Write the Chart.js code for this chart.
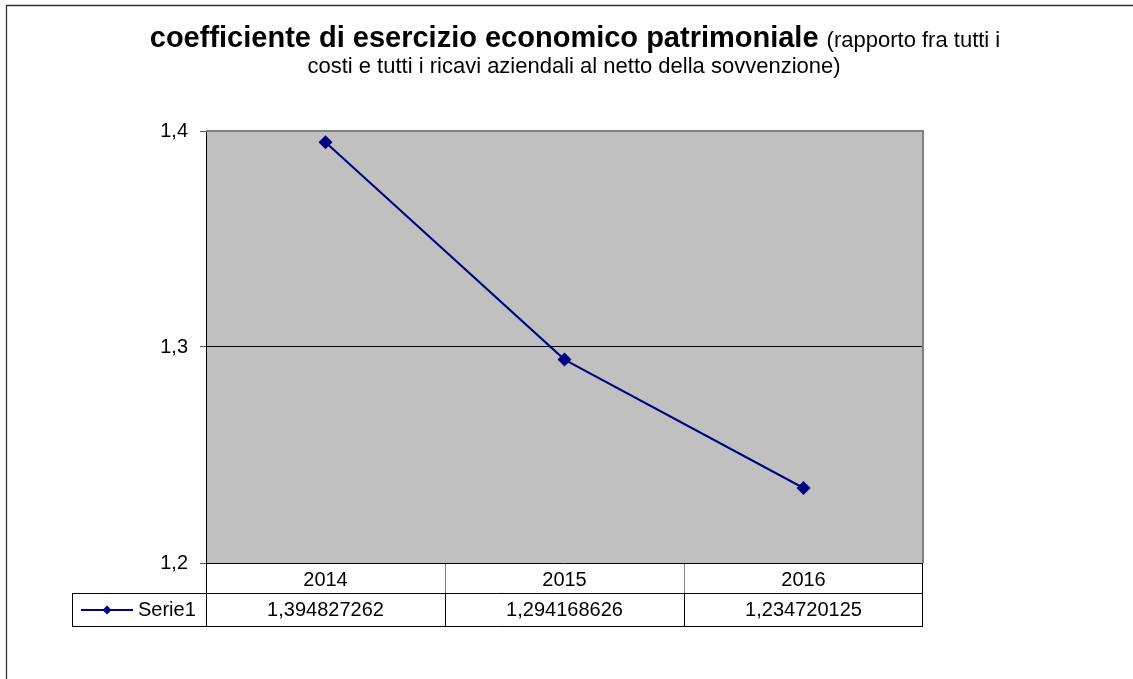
<!DOCTYPE html>
<html lang="it">
<head>
    <meta charset="UTF-8">
    <title>coefficiente di esercizio economico patrimoniale</title>
    <script src="https://cdn.jsdelivr.net/npm/chart.js"></script>
    <style>
        html, body { margin: 0; padding: 0; background: #ffffff; }
        canvas { display: block; }
    </style>
</head>
<body>
    <canvas id="chart" width="1133" height="679"></canvas>

    <script>
        // chart data
        const years = ['2014', '2015', '2016'];
        const serie1 = [1.394827262, 1.294168626, 1.234720125];
        const serieName = 'Serie1';
        const yTicks = [1.2, 1.3, 1.4];
        const titleBold = 'coefficiente di esercizio economico patrimoniale';
        const titleRest = '(rapporto fra tutti i';
        const titleLine2 = 'costi e tutti i ricavi aziendali al netto della sovvenzione)';

        const FONT = '"Liberation Sans", Arial, Helvetica, sans-serif';
        const NAVY = '#000080';
        const comma = v => String(v).replace('.', ',');

        // white page, outer frame, gray plot area
        const backdrop = {
            id: 'backdrop',
            beforeDraw(chart) {
                const { ctx, chartArea: a } = chart;
                ctx.save();
                ctx.fillStyle = '#ffffff';
                ctx.fillRect(0, 0, chart.width, chart.height);
                ctx.strokeStyle = '#333333';
                ctx.lineWidth = 1.3;
                ctx.beginPath();
                ctx.moveTo(6.5, chart.height);
                ctx.lineTo(6.5, 5.5);
                ctx.lineTo(chart.width, 5.5);
                ctx.stroke();
                ctx.fillStyle = '#c0c0c0';
                ctx.fillRect(a.left, a.top, a.right - a.left, a.bottom - a.top);
                ctx.restore();
            },
            beforeDatasetsDraw(chart) {
                const { ctx, chartArea: a } = chart;
                ctx.save();
                ctx.strokeStyle = '#808080';
                ctx.lineWidth = 2;
                ctx.beginPath();
                ctx.moveTo(a.left, a.top);
                ctx.lineTo(a.right, a.top);
                ctx.lineTo(a.right, a.bottom);
                ctx.stroke();
                ctx.restore();
            }
        };

        // title with bold and normal parts
        const titlePlugin = {
            id: 'mixedTitle',
            afterDraw(chart) {
                const ctx = chart.ctx;
                const cx = 575;
                ctx.save();
                ctx.fillStyle = '#000';
                ctx.textBaseline = 'alphabetic';
                ctx.textAlign = 'left';
                ctx.font = 'bold 29px ' + FONT;
                const wb = ctx.measureText(titleBold + ' ').width;
                ctx.font = '22px ' + FONT;
                const wr = ctx.measureText(titleRest).width;
                let x = cx - (wb + wr) / 2;
                ctx.font = 'bold 29px ' + FONT;
                ctx.fillText(titleBold, x, 47);
                ctx.font = '22px ' + FONT;
                ctx.fillText(titleRest, x + wb, 47);
                ctx.textAlign = 'center';
                ctx.fillText(titleLine2, cx - 1, 73);
                ctx.restore();
            }
        };

        // data table under the plot
        const dataTable = {
            id: 'dataTable',
            afterDraw(chart) {
                const { ctx, chartArea: a } = chart;
                const xs = chart.scales.x;
                const ds = chart.data.datasets[0];
                const n = chart.data.labels.length;
                const cw = (a.right - a.left) / n;
                const r0 = a.bottom, r1 = a.bottom + 30, r2 = a.bottom + 63;
                const legL = 72;
                ctx.save();
                // row 1 inner verticals (gray)
                ctx.strokeStyle = '#808080';
                ctx.lineWidth = 1;
                ctx.beginPath();
                for (let i = 1; i < n; i++) {
                    const x = Math.round(a.left + cw * i) + 0.5;
                    ctx.moveTo(x, r0); ctx.lineTo(x, r1);
                }
                ctx.stroke();
                // black lines
                ctx.strokeStyle = '#000';
                ctx.beginPath();
                ctx.moveTo(a.left, r0 + 0.5); ctx.lineTo(a.right, r0 + 0.5);
                ctx.moveTo(legL, r1 + 0.5); ctx.lineTo(a.right, r1 + 0.5);
                ctx.moveTo(legL, r2 + 0.5); ctx.lineTo(a.right, r2 + 0.5);
                ctx.moveTo(legL + 0.5, r1); ctx.lineTo(legL + 0.5, r2);
                ctx.moveTo(a.left + 0.5, r0); ctx.lineTo(a.left + 0.5, r2);
                ctx.moveTo(Math.round(a.right) - 0.5, r0); ctx.lineTo(Math.round(a.right) - 0.5, r2);
                for (let i = 1; i < n; i++) {
                    const x = Math.round(a.left + cw * i) + 0.5;
                    ctx.moveTo(x, r1); ctx.lineTo(x, r2);
                }
                ctx.stroke();
                // texts
                ctx.fillStyle = '#000';
                ctx.font = '20px ' + FONT;
                ctx.textAlign = 'center';
                ctx.textBaseline = 'alphabetic';
                chart.data.labels.forEach((lab, i) => {
                    const x = xs.getPixelForValue(i);
                    ctx.fillText(lab, x, r0 + 23);
                    ctx.fillText(comma(ds.data[i]), x, r1 + 23);
                });
                // legend key
                const ly = (r1 + r2) / 2 + 0.5;
                ctx.strokeStyle = ds.borderColor;
                ctx.lineWidth = 2;
                ctx.beginPath();
                ctx.moveTo(81, ly); ctx.lineTo(133, ly);
                ctx.stroke();
                ctx.fillStyle = ds.pointBackgroundColor;
                ctx.beginPath();
                ctx.moveTo(107, ly - 4.5); ctx.lineTo(111.5, ly);
                ctx.lineTo(107, ly + 4.5); ctx.lineTo(102.5, ly);
                ctx.closePath();
                ctx.fill();
                ctx.fillStyle = '#000';
                ctx.textAlign = 'left';
                ctx.fillText(ds.label, 138, r1 + 23);
                ctx.restore();
            }
        };

        new Chart(document.getElementById('chart'), {
            type: 'line',
            data: {
                labels: years,
                datasets: [{
                    label: serieName,
                    data: serie1,
                    borderColor: NAVY,
                    borderWidth: 2,
                    pointStyle: 'rectRot',
                    pointRadius: 7,
                    pointBackgroundColor: NAVY,
                    pointBorderColor: NAVY,
                    pointBorderWidth: 0,
                    tension: 0
                }]
            },
            options: {
                responsive: false,
                animation: false,
                devicePixelRatio: 1,
                layout: { padding: { top: 131, right: 210, bottom: 116, left: 0 } },
                plugins: {
                    legend: { display: false },
                    title: { display: false },
                    tooltip: { enabled: false }
                },
                scales: {
                    x: {
                        type: 'category',
                        offset: true,
                        display: false
                    },
                    y: {
                        min: yTicks[0],
                        max: yTicks[yTicks.length - 1],
                        afterFit(scale) { scale.width = 206; },
                        afterBuildTicks(scale) { scale.ticks = yTicks.map(v => ({ value: v })); },
                        ticks: {
                            color: '#000',
                            font: { family: FONT, size: 20 },
                            padding: 12,
                            callback: v => Number(v).toFixed(1).replace('.', ',')
                        },
                        grid: {
                            color: c => (c.tick && Math.abs(c.tick.value - 1.3) < 1e-9) ? '#000' : 'rgba(0,0,0,0)',
                            tickColor: '#555',
                            tickLength: 6,
                            lineWidth: 1
                        },
                        border: { display: true, color: '#000', width: 1 }
                    }
                }
            },
            plugins: [backdrop, titlePlugin, dataTable]
        });
    </script>
</body>
</html>
